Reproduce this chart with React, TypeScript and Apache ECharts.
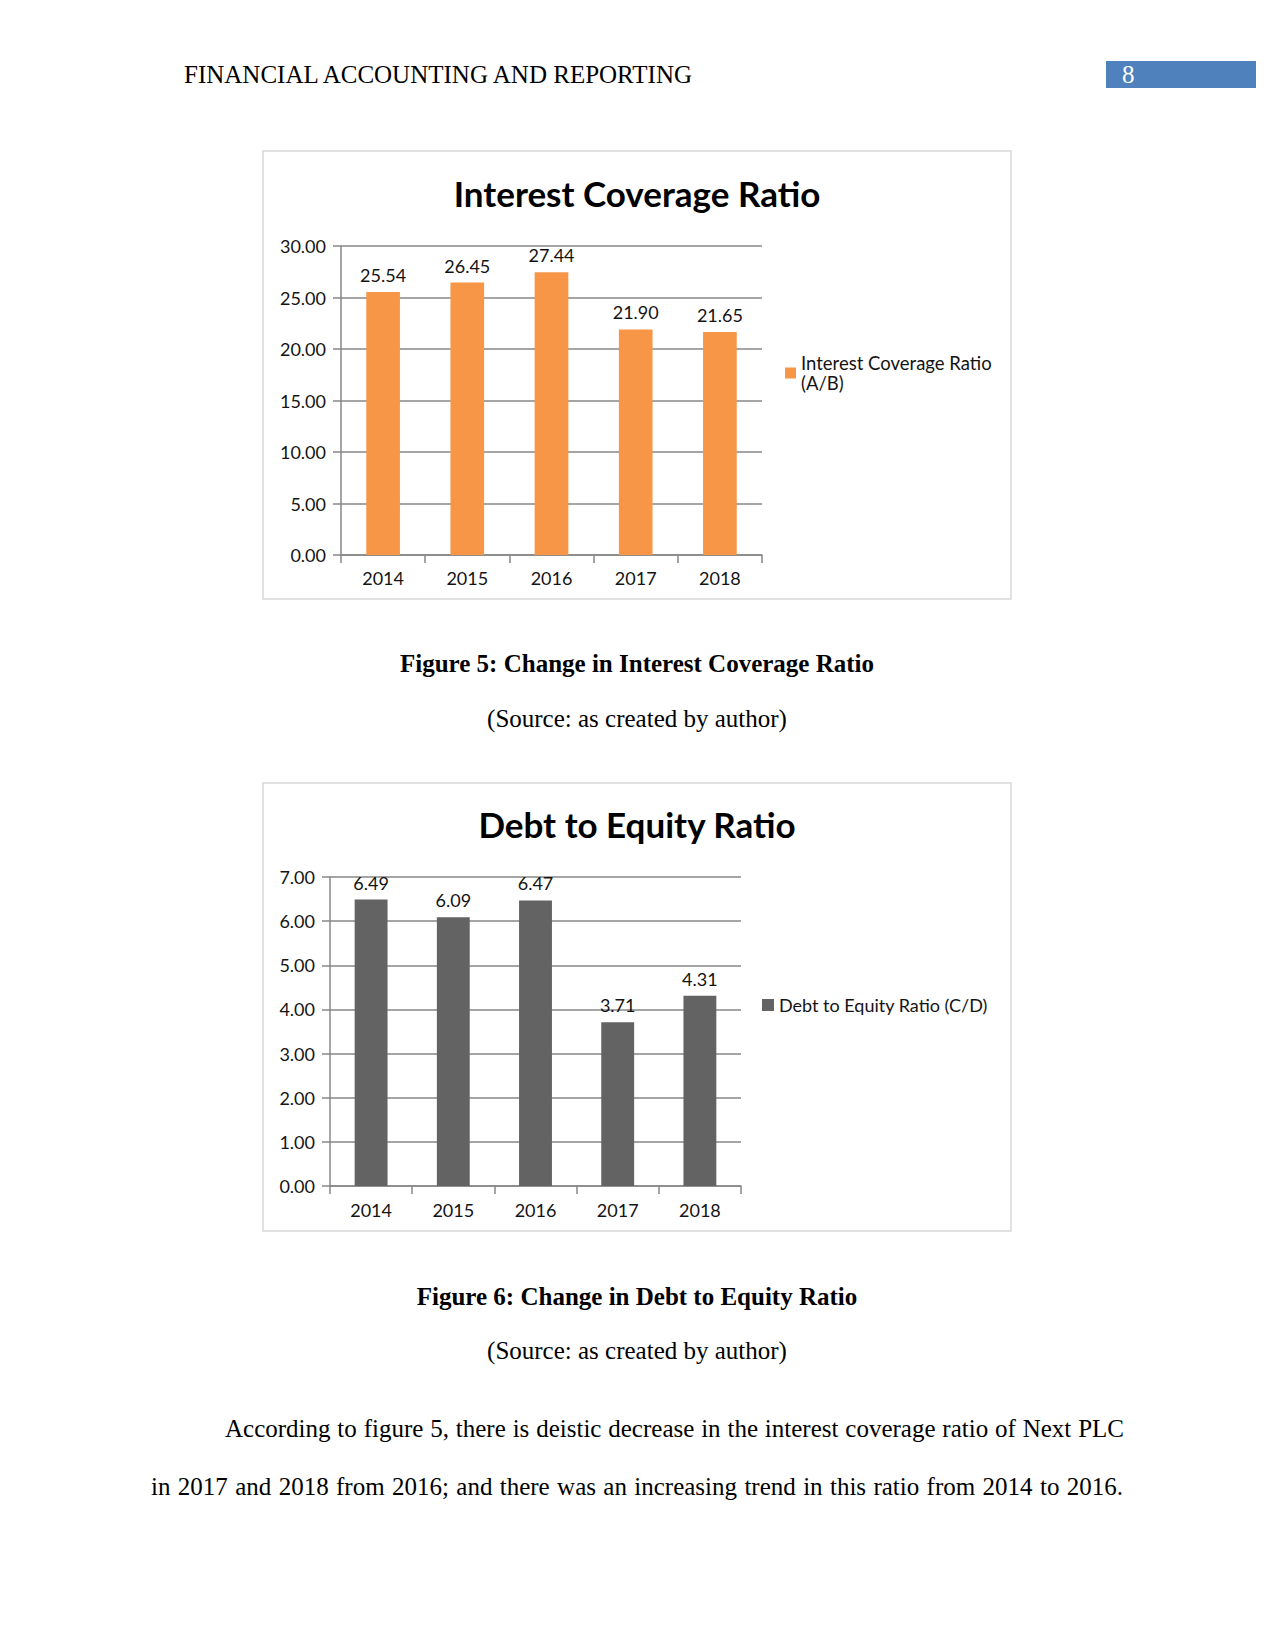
import React, { useEffect, useRef } from 'react';
import * as echarts from 'echarts';

const years = ['2014', '2015', '2016', '2017', '2018'];
const interestCoverage = [25.54, 26.45, 27.44, 21.9, 21.65];
const debtToEquity = [6.49, 6.09, 6.47, 3.71, 4.31];
const icrAxis = [0, 30, 5];
const deAxis = [0, 7, 1];
const icrName = 'Interest Coverage Ratio (A/B)';
const deName = 'Debt to Equity Ratio (C/D)';
const icrTitle = 'Interest Coverage Ratio';
const deTitle = 'Debt to Equity Ratio';
const headerText = 'FINANCIAL ACCOUNTING AND REPORTING';
const pageNumber = '8';
const caption5 = 'Figure 5: Change in Interest Coverage Ratio';
const caption6 = 'Figure 6: Change in Debt to Equity Ratio';
const sourceText = '(Source: as created by author)';
const bodyLines = [
  'According to figure 5, there is deistic decrease in the interest coverage ratio of Next PLC',
  'in 2017 and 2018 from 2016; and there was an increasing trend in this ratio from 2014 to 2016.',
];

const SERIF = '"Liberation Serif", "Times New Roman", serif';
const SANS = 'Lato, "Open Sans", sans-serif';
const GRID_COLOR = '#878787';
const TEXT_COLOR = '#141414';

function justified(text: string, x0: number, x1: number, y: number, fontSize: number) {
  const canvas = document.createElement('canvas');
  const ctx = canvas.getContext('2d')!;
  const font = `${fontSize}px ${SERIF}`;
  ctx.font = font;
  const words = text.split(' ');
  const widths = words.map((w) => ctx.measureText(w).width);
  const total = widths.reduce((a, b) => a + b, 0);
  const gap = words.length > 1 ? (x1 - x0 - total) / (words.length - 1) : 0;
  let x = x0;
  return words.map((w, i) => {
    const el = {
      type: 'text',
      x,
      y,
      style: { text: w, font, fill: '#000', align: 'left', verticalAlign: 'middle' },
    };
    x += widths[i] + gap;
    return el;
  });
}

function axisCommon() {
  return {
    axisLine: { show: true, lineStyle: { color: GRID_COLOR, width: 1.5 } },
    axisTick: { show: true, length: 8, lineStyle: { color: GRID_COLOR, width: 1.5 } },
  };
}

export default function App() {
  const ref = useRef<HTMLDivElement>(null);
  useEffect(() => {
    const chart = echarts.init(ref.current!, undefined, { renderer: 'svg' });
    const labelStyle = { fontFamily: SANS, fontSize: 18, color: TEXT_COLOR };
    const option: any = {
      animation: false,
      backgroundColor: '#fff',
      grid: [
        { left: 341, top: 246, width: 421, height: 309 },
        { left: 330, top: 877, width: 411, height: 309 },
      ],
      xAxis: [
        {
          gridIndex: 0,
          type: 'category',
          data: years,
          ...axisCommon(),
          axisLabel: { ...labelStyle, margin: 14 },
        },
        {
          gridIndex: 1,
          type: 'category',
          data: years,
          ...axisCommon(),
          axisLabel: { ...labelStyle, margin: 15 },
        },
      ],
      yAxis: [
        {
          gridIndex: 0,
          type: 'value',
          min: icrAxis[0],
          max: icrAxis[1],
          interval: icrAxis[2],
          ...axisCommon(),
          splitLine: { show: true, lineStyle: { color: GRID_COLOR, width: 1.5 } },
          axisLabel: { ...labelStyle, margin: 15, formatter: (v: number) => v.toFixed(2) },
        },
        {
          gridIndex: 1,
          type: 'value',
          min: deAxis[0],
          max: deAxis[1],
          interval: deAxis[2],
          ...axisCommon(),
          splitLine: { show: true, lineStyle: { color: GRID_COLOR, width: 1.5 } },
          axisLabel: { ...labelStyle, margin: 15, formatter: (v: number) => v.toFixed(2) },
        },
      ],
      legend: [
        {
          data: [icrName],
          left: 785,
          top: 353,
          padding: 0,
          icon: 'rect',
          itemWidth: 11,
          itemHeight: 11,
          formatter: () => 'Interest Coverage Ratio\n(A/B)',
          textStyle: { ...labelStyle, fontSize: 18.5, lineHeight: 20 },
        },
        {
          data: [deName],
          left: 762,
          top: 995,
          padding: 0,
          icon: 'rect',
          itemWidth: 12,
          itemHeight: 12,
          textStyle: { ...labelStyle, lineHeight: 20 },
        },
      ],
      series: [
        {
          type: 'bar',
          name: icrName,
          xAxisIndex: 0,
          yAxisIndex: 0,
          data: interestCoverage,
          barWidth: '40%',
          itemStyle: { color: '#F79646' },
          label: {
            show: true,
            position: 'top',
            distance: 8,
            ...labelStyle,
            formatter: (p: any) => Number(p.value).toFixed(2),
          },
        },
        {
          type: 'bar',
          name: deName,
          xAxisIndex: 1,
          yAxisIndex: 1,
          data: debtToEquity,
          barWidth: '40%',
          itemStyle: { color: '#636363' },
          label: {
            show: true,
            position: 'top',
            distance: 8,
            ...labelStyle,
            formatter: (p: any) => Number(p.value).toFixed(2),
          },
        },
      ],
      graphic: [
        {
          type: 'text',
          x: 184,
          y: 74,
          style: { text: headerText, font: `25px ${SERIF}`, fill: '#000', verticalAlign: 'middle' },
        },
        {
          type: 'rect',
          shape: { x: 1106, y: 61, width: 150, height: 27 },
          style: { fill: '#4F81BD' },
        },
        {
          type: 'text',
          x: 1122,
          y: 74,
          style: { text: pageNumber, font: `25px ${SERIF}`, fill: '#fff', verticalAlign: 'middle' },
        },
        {
          type: 'rect',
          shape: { x: 263, y: 151, width: 748, height: 448 },
          style: { fill: 'none', stroke: '#D9D9D9', lineWidth: 1.5 },
        },
        {
          type: 'rect',
          shape: { x: 263, y: 783, width: 748, height: 448 },
          style: { fill: 'none', stroke: '#D9D9D9', lineWidth: 1.5 },
        },
        {
          type: 'text',
          x: 637,
          y: 193,
          style: { text: icrTitle, font: `bold 35px ${SANS}`, fill: '#000', align: 'center', verticalAlign: 'middle' },
        },
        {
          type: 'text',
          x: 637,
          y: 824,
          style: { text: deTitle, font: `bold 35px ${SANS}`, fill: '#000', align: 'center', verticalAlign: 'middle' },
        },
        {
          type: 'text',
          x: 637,
          y: 663,
          style: { text: caption5, font: `bold 25px ${SERIF}`, fill: '#000', align: 'center', verticalAlign: 'middle' },
        },
        {
          type: 'text',
          x: 637,
          y: 718,
          style: { text: sourceText, font: `25px ${SERIF}`, fill: '#000', align: 'center', verticalAlign: 'middle' },
        },
        {
          type: 'text',
          x: 637,
          y: 1296,
          style: { text: caption6, font: `bold 25px ${SERIF}`, fill: '#000', align: 'center', verticalAlign: 'middle' },
        },
        {
          type: 'text',
          x: 637,
          y: 1350,
          style: { text: sourceText, font: `25px ${SERIF}`, fill: '#000', align: 'center', verticalAlign: 'middle' },
        },
        ...justified(bodyLines[0], 225, 1124, 1428, 25),
        ...justified(bodyLines[1], 151, 1123, 1486, 25),
      ],
    };
    chart.setOption(option);
    return () => chart.dispose();
  }, []);
  return (
    <div
      ref={ref}
      style={{ position: 'absolute', left: 0, top: 0, width: 1275, height: 1651 }}
    />
  );
}
